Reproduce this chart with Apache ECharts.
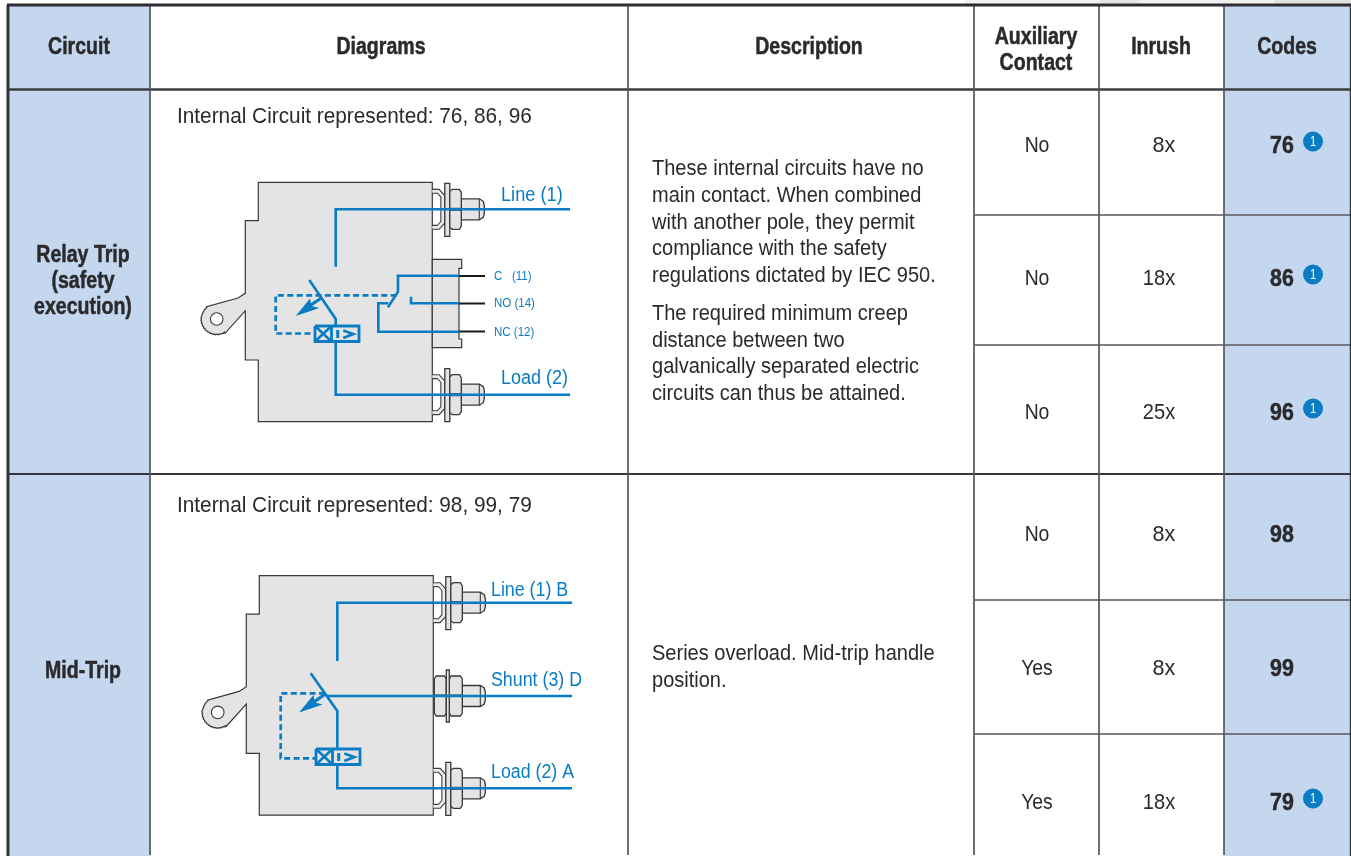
<!DOCTYPE html>
<html><head><meta charset="utf-8">
<style>html,body{margin:0;padding:0;background:#fff}#c{width:1351px;height:856px}</style>
<script src="https://cdn.jsdelivr.net/npm/echarts@6/dist/echarts.min.js"></script>
</head><body><div id="c"></div>
<script>
// ---- table content ----
const headers=[['Circuit'],['Diagrams'],['Description'],['Auxiliary','Contact'],['Inrush'],['Codes']];
const circuitNames=[['Relay Trip','(safety','execution)'],['Mid-Trip']];
const captions=['Internal Circuit represented: 76, 86, 96','Internal Circuit represented: 98, 99, 79'];
const description1=['These internal circuits have no','main contact. When combined','with another pole, they permit','compliance with the safety','regulations dictated by IEC 950.'];
const description2=['The required minimum creep','distance between two','galvanically separated electric','circuits can thus be attained.'];
const description3=['Series overload. Mid-trip handle','position.'];
const auxContact=['No','No','No','No','Yes','Yes'];
const inrush=['8x','18x','25x','8x','8x','18x'];
const codes=['76','86','96','98','99','79'];
const footnote=[true,true,true,false,false,true];

// ---- palette / type ----
const BLUE='#0a7cc3',FILL='#c5d7ef',INK='#2a2a2c',GRID='#55565c',BODY='#e4e4e4',EDGE='#383838';
const FONT='"Liberation Sans"';
// layout, in page units of the hidden axes
const vLines=[150,628,974,1099,1224],rowLines=[215,345,600,734];
const rowY=[145,278,412,534,668,802];
const colX=[79,381,809,1036,1161,1287];

function renderChrome(params,api){
  const P=(x,y)=>api.coord([x,y]);
  const kids=[];
  const rect=(x0,y0,x1,y1,fill)=>{const a=P(x0,y0),b=P(x1,y1);kids.push({type:'rect',shape:{x:a[0],y:a[1],width:b[0]-a[0],height:b[1]-a[1]},style:{fill:fill}});};
  const line=(x0,y0,x1,y1,w,c)=>{const a=P(x0,y0),b=P(x1,y1);kids.push({type:'line',shape:{x1:a[0],y1:a[1],x2:b[0],y2:b[1]},style:{stroke:c,lineWidth:w}});};
  rect(965,0,1351,4,'#f1f1f1');rect(1100,0,1140,4,'#e6e6e6');rect(1275,0,1351,4,'#e2e2e2');
  rect(9,6,150,856,FILL);rect(1224,6,1350,856,FILL);
  rowLines.forEach(y=>line(974,y,1351,y,1.6,GRID));
  line(8,89.5,1351,89.5,2.4,'#3c3d42');
  line(8,474,1351,474,2,'#36373c');
  vLines.forEach(x=>line(x,5,x,855,1.7,GRID));
  line(8,5,8,856,3,'#333438');
  line(1350.5,5,1350.5,856,1.4,'#333438');
  line(7,5,1351,5,3,'#2e2e32');
  return {type:'group',children:kids};
}

function terminal(P,kids,x0,y0,kind){
  const poly=(pts,fill,w)=>kids.push({type:'polygon',shape:{points:pts.map(p=>P(x0+p[0],y0+p[1]))},style:{fill:fill,stroke:EDGE,lineWidth:w||1.3}});
  const pl=(pts,c,w)=>kids.push({type:'polyline',shape:{points:pts.map(p=>P(x0+p[0],y0+p[1]))},style:{fill:'none',stroke:c,lineWidth:w}});
  const bolt=[[29,-10.5],[47,-10.5],[51,-8],[52,-4],[52,4],[51,8],[47,10.5],[29,10.5]];
  if(kind==='single'){
    const br=[[0,-18],[6,-18],[10.5,-13],[10.5,13],[6,18],[0,18]];
    pl(br,'#3e3e3e',5);pl(br,'#ececec',2.8);
  }
  poly(bolt,BODY);
  pl([[47,-10.5],[47,10.5]],EDGE,1.1);
  if(kind==='single'){
    poly([[12.5,-26],[17.5,-26],[17.5,27],[12.5,27]],BODY);
    poly([[17.5,-18],[20,-20],[27,-20],[29,-17],[29,17],[27,20],[20,20],[17.5,18]],BODY);
    pl([[17.5,-1],[29,-1]],EDGE,1);pl([[17.5,1],[29,1]],EDGE,1);
  }else{
    poly([[1,-17],[3,-20],[11,-20],[13,-17],[13,17],[11,20],[3,20],[1,17]],BODY);
    poly([[16,-17],[18,-20],[27,-20],[29,-17],[29,17],[27,20],[18,20],[16,17]],BODY);
    poly([[13,-26],[16,-26],[16,26],[13,26]],BODY);
    pl([[1,-1],[13,-1]],EDGE,1);pl([[16,-1],[29,-1]],EDGE,1);
  }
}

function breaker(P,kids,dx,dy){
  const cx=216.7,cy=319,R=15.2;
  const arc=[];
  for(let a=60,i=0;a<=231;a+=5,i++){
    const r=R+(a<190&&i%2?0.7:0);
    arc.push([cx+r*Math.cos(a*Math.PI/180),cy+r*Math.sin(a*Math.PI/180)]);
  }
  const out=[[258.3,182.3],[432.3,182.3],[432.3,421.7],[258.3,421.7],[258.3,360],[245.3,360],[245.3,310.7],[225,333.3]]
    .concat(arc).concat([[206.7,306.7],[238,298],[245.3,293.3],[245.3,220.7],[258.3,220.7]]);
  kids.push({type:'polygon',shape:{points:out.map(p=>P(p[0]+dx,p[1]+dy))},style:{fill:BODY,stroke:EDGE,lineWidth:1.2}});
  const c=P(cx+dx,cy+dy);
  kids.push({type:'circle',shape:{cx:c[0],cy:c[1],r:6.3},style:{fill:'#fff',stroke:EDGE,lineWidth:1.1}});
}

function renderDiagrams(params,api){
  const P=(x,y)=>api.coord([x,y]);
  const kids=[];
  const wire=(pts,w,dash)=>kids.push({type:'polyline',shape:{points:pts.map(p=>P(p[0],p[1]))},style:{fill:'none',stroke:BLUE,lineWidth:w||2.6,lineDash:dash||null,lineJoin:'miter'}});
  const label=(t,x,y,size,sx)=>{const a=P(x,y+(size<15?0.5:1));kids.push({type:'text',x:a[0],y:a[1],scaleX:sx,style:{text:t,fill:BLUE,font:size+'px '+FONT,textAlign:'left',textVerticalAlign:'middle'}});};
  const black=(x0,y,x1)=>{const a=P(x0,y),b=P(x1,y);kids.push({type:'line',shape:{x1:a[0],y1:a[1],x2:b[0],y2:b[1]},style:{stroke:'#1a1a1a',lineWidth:2}});};
  const relay=(ox,oy)=>{
    wire([[ox,oy],[ox+44,oy],[ox+44,oy+15.5],[ox,oy+15.5],[ox,oy]],2.8);
    wire([[ox+16.5,oy],[ox+16.5,oy+15.5]],2.8);
    wire([[ox,oy],[ox+16.5,oy+15.5]],2.5);wire([[ox+16.5,oy],[ox,oy+15.5]],2.5);
    wire([[ox+22.7,oy+4],[ox+22.7,oy+12]],3);
    wire([[ox+28.3,oy+4.5],[ox+38.3,oy+8],[ox+28.3,oy+12]],2.7);
  };
  const arrow=(dx,dy)=>{
    wire([[321.7+dx,297.7+dy],[308+dx,307+dy]],3.2);
    kids.push({type:'polygon',shape:{points:[[295.7,316],[310,298.5],[311.5,306],[319.3,308]].map(p=>P(p[0]+dx,p[1]+dy))},style:{fill:BLUE}});
  };

  // ---- first diagram ----
  breaker(P,kids,0,0);
  (function(){
    const blk=[[432.3,259.3],[461.7,259.3],[461.7,268.3],[459,268.3],[459,339],[461.7,339],[461.7,347.7],[432.3,347.7]];
    kids.push({type:'polygon',shape:{points:blk.map(p=>P(p[0],p[1]))},style:{fill:BODY,stroke:EDGE,lineWidth:1.2}});
  })();
  black(459,276,485);black(459,303.5,485);black(459,331.5,485);
  terminal(P,kids,432.3,209.3,'single');
  terminal(P,kids,432.3,394.7,'single');
  wire([[335.7,266.7],[335.7,209.3],[570,209.3]]);
  wire([[335.7,342],[335.7,394.7],[570,394.7]]);
  wire([[309.3,280],[335.7,319],[335.7,326]]);
  arrow(0,0);
  wire([[396.7,295.3],[275.7,295.3],[275.7,333.5],[315,333.5]],2.7,[6,3.4]);
  relay(315,326);
  wire([[459,275.7],[398,275.7],[398,291.7],[388,307.3]]);
  wire([[388.3,303.3],[378.3,303.3],[378.3,331.7],[459,331.7]]);
  wire([[411,296.7],[411,303.3],[459,303.3]]);
  label('Line (1)',501,194,20,0.91);label('Load (2)',501,377,20,0.9);
  label('C   (11)',494,276,12.5,0.92);label('NO (14)',494,303.5,12.5,0.92);label('NC (12)',494,332,12.5,0.92);

  // ---- second diagram ----
  breaker(P,kids,1,393.4);
  terminal(P,kids,433.3,602.7,'single');
  terminal(P,kids,433.3,696,'double');
  terminal(P,kids,433.3,788.3,'single');
  wire([[337.3,661],[337.3,602.7],[572,602.7]]);
  wire([[337.3,765],[337.3,788.3],[572,788.3]]);
  wire([[326,696],[572,696]]);
  wire([[310.7,673.3],[337.3,711],[337.3,749]]);
  arrow(3.4,396.6);
  wire([[325,693.3],[280.7,693.3],[280.7,758.3],[316,758.3]],2.7,[6,3.4]);
  relay(316,749);
  label('Line (1) B',491,589,20,0.89);label('Shunt (3) D',491,679,20,0.89);label('Load (2) A',491,771,20,0.89);
  return {type:'group',children:kids};
}

function renderText(params,api){
  const P=(x,y)=>api.coord([x,y]);
  const kids=[];
  const txt=(t,x,y,o)=>{o=o||{};const a=P(x,y+(o.bold?2:1));kids.push({type:'text',x:a[0],y:a[1],scaleX:o.sx||0.91,style:{text:t,fill:o.fill||INK,stroke:o.bold?INK:null,lineWidth:o.bold?0.5:0,font:(o.bold?'bold ':'')+(o.size||22)+'px '+FONT,textAlign:o.align||'center',textVerticalAlign:'middle'}});};
  const HB={bold:true,size:23,sx:0.85};
  headers.forEach((h,i)=>{
    if(h.length===1)txt(h[0],colX[i],46,HB);
    else{txt(h[0],colX[i],36,HB);txt(h[1],colX[i],62,HB);}
  });
  const nameY=[254,280,306];
  circuitNames[0].forEach((t,i)=>txt(t,83,nameY[i],HB));
  txt(circuitNames[1][0],83,670,HB);
  txt(captions[0],177,116,{align:'left',sx:0.945});
  txt(captions[1],177,505,{align:'left',sx:0.945});
  const d1=[168,195,222,248,275],d2=[313,340,366,393],d3=[653,680];
  description1.forEach((t,i)=>txt(t,652,d1[i],{align:'left'}));
  description2.forEach((t,i)=>txt(t,652,d2[i],{align:'left'}));
  description3.forEach((t,i)=>txt(t,652,d3[i],{align:'left'}));
  rowY.forEach((y,i)=>{
    txt(auxContact[i],1037,y,{sx:0.88});
    const short=inrush[i].length===2;
    txt(inrush[i],short?1164:1159,y,{sx:short?0.98:0.91});
    txt(codes[i],1282,y-0.5,{bold:true,size:23,sx:0.93});
    if(footnote[i]){
      const c=P(1313,y-3.5);
      kids.push({type:'circle',shape:{cx:c[0],cy:c[1],r:10},style:{fill:BLUE}});
      txt('1',1313,y-4,{fill:'#fff',size:14,sx:0.8});
    }
  });
  return {type:'group',children:kids};
}

const chart=echarts.init(document.getElementById('c'),null,{renderer:'canvas'});
const one=[[0,0]];
const base={type:'custom',data:one,silent:true,animation:false,clip:false,encode:{x:0,y:1}};
chart.setOption({
  animation:false,backgroundColor:'#fff',
  grid:{left:0,right:0,top:0,bottom:0},
  xAxis:{type:'value',min:0,max:1351,show:false},
  yAxis:{type:'value',min:0,max:856,inverse:true,show:false},
  series:[
    Object.assign({},base,{name:'table',renderItem:renderChrome,z:1}),
    Object.assign({},base,{name:'diagrams',renderItem:renderDiagrams,z:2}),
    Object.assign({},base,{name:'text',renderItem:renderText,z:3})
  ]
});
</script></body></html>
